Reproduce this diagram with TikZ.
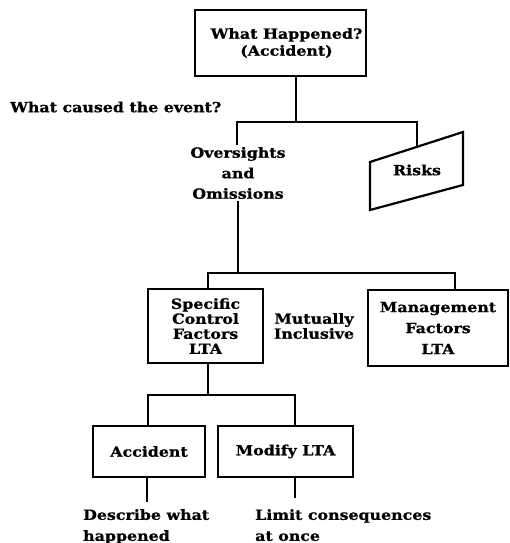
\documentclass[tikz,border=0pt]{standalone}
\usepackage{fontspec}
\setmainfont[FakeStretch=1.13, BoldFeatures={FakeBold=0.8}]{DejaVu Serif}
\begin{document}
\begin{tikzpicture}[x=1pt,y=-1pt,
  box/.style={draw, line width=2.2pt, rectangle, align=center, inner sep=0pt},
  lbl/.style={align=center, inner sep=2pt},
  link/.style={line width=1.3pt},
  every node/.style={font=\bfseries\fontsize{14}{17}\selectfont}]
\useasboundingbox (0,0) rectangle (509,543);

% top event
\node[box, minimum width=171pt, minimum height=66pt] (top) at (280.5,43) {\hspace*{12pt}What Happened?\\\hspace*{12pt}(Accident)};
\node[lbl, anchor=west] (cause) at (8,107) {What caused the event?};

% first split
\coordinate (j1) at (296,122);
\coordinate (j1l) at (237,122);
\coordinate (j1r) at (417,122);
\node[lbl, font=\bfseries\fontsize{14}{20.5}\selectfont] (ovs) at (238,173) {Oversights\\and\\Omissions};
\coordinate (rk1) at (370,162);
\coordinate (rk2) at (463,132);
\coordinate (rk3) at (463,185);
\coordinate (rk4) at (370,210);
\coordinate (rktop) at (417,146.8);
\node (risks) at (417,170) {Risks};
\draw[line width=2.2pt, line join=miter] (rk1) -- (rk2) -- (rk3) -- (rk4) -- cycle;

\draw[link] (j1 |- top.south) -- (j1);
\draw[link] (j1l |- ovs.north) -- (j1l) -- (j1r) -- (rktop);

% second split
\coordinate (j2) at (238,273);
\coordinate (j2l) at (208,273);
\coordinate (j2r) at (455,273);
\node[box, minimum width=115pt, minimum height=74pt, font=\bfseries\fontsize{14}{15}\selectfont] (scf) at (205.5,326) {Specific\\Control\\Factors\\LTA};
\node[box, minimum width=140pt, minimum height=76pt, font=\bfseries\fontsize{14}{21}\selectfont] (mgt) at (438,328) {Management\\Factors\\LTA};
\node[lbl, font=\bfseries\fontsize{14}{15}\selectfont] (mut) at (314,326) {Mutually\\Inclusive};

\draw[link] (j2 |- ovs.south) -- (j2);
\draw[link] (j2l |- scf.north) -- (j2l) -- (j2r) -- (j2r |- mgt.north);

% third split
\coordinate (j3) at (208,395);
\coordinate (j3l) at (148,395);
\coordinate (j3r) at (295,395);
\node[box, minimum width=112pt, minimum height=51pt] (acc) at (149,451.5) {Accident};
\node[box, minimum width=135pt, minimum height=51pt] (mod) at (285.5,451.5) {Modify LTA};

\draw[link] (j3 |- scf.south) -- (j3);
\draw[link] (j3l |- acc.north) -- (j3l) -- (j3r) -- (j3r |- mod.north);

% notes
\node[lbl, align=left, anchor=north west, font=\bfseries\fontsize{14}{21}\selectfont] (desc) at (81,507) {Describe what\\happened};
\node[lbl, align=left, anchor=north west, font=\bfseries\fontsize{14}{21}\selectfont] (lim) at (253,507) {Limit consequences\\at once};
\coordinate (ac) at (147,0);
\coordinate (mc) at (295,0);
\draw[link] (ac |- acc.south) -- (147,502);
\draw[link] (mc |- mod.south) -- (295,498);
\end{tikzpicture}
\end{document}
